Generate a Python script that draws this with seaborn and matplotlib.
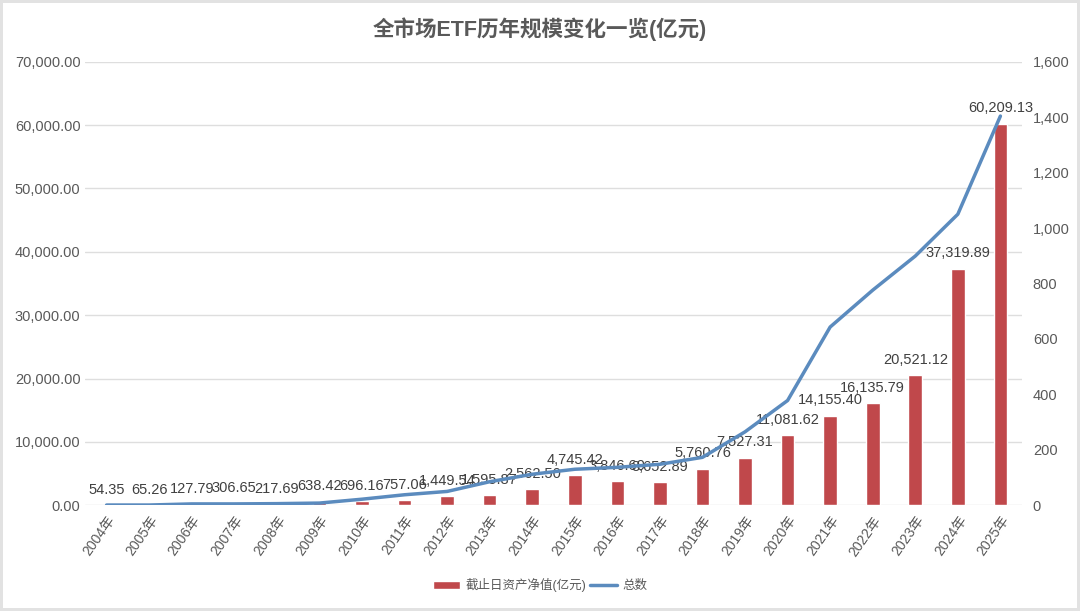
import matplotlib
matplotlib.use("Agg")
import matplotlib.pyplot as plt
import seaborn as sns
import numpy as np
import pandas as pd
from matplotlib.ticker import FuncFormatter, MultipleLocator
from matplotlib.patches import Patch
from matplotlib.lines import Line2D

# data
years = [f"{y}年" for y in range(2004, 2026)]
net_assets = [54.35, 65.26, 127.79, 306.65, 217.69, 638.42, 696.16, 757.06,
              1449.54, 1595.87, 2562.50, 4745.42, 3846.60, 3652.89, 5760.76,
              7527.31, 11081.62, 14155.40, 16135.79, 20521.12, 37319.89, 60209.13]
etf_count = [1, 1, 5, 5, 6, 8, 22, 38, 50, 85, 112, 130, 137, 148, 173,
             265, 378, 643, 776, 899, 1050, 1404]

BAR_COLOR = "#C0484B"
LINE_COLOR = "#5B8BBE"
TEXT_COLOR = "#595959"

sns.set_theme(style="white")
plt.rcParams['font.family'] = ['Liberation Sans', 'Noto Sans CJK SC', 'DejaVu Sans']

df = pd.DataFrame({'year': years, 'assets': net_assets, 'count': etf_count})

fig = plt.figure(figsize=(10.8, 6.11), dpi=100)
fig.patch.set_edgecolor('#e2e2e2')
fig.patch.set_linewidth(3)
ax = fig.add_axes([0.079, 0.173, 0.867, 0.726])

sns.barplot(data=df, x='year', y='assets', color=BAR_COLOR, width=0.32,
            saturation=1, ax=ax)
ax.set_ylim(0, 70000)
ax.yaxis.set_major_locator(MultipleLocator(10000))
ax.yaxis.set_major_formatter(FuncFormatter(lambda v, p: f"{v:,.2f}"))
ax.grid(axis='y', color='#dedede', linewidth=1)
ax.set_axisbelow(True)
ax.set_xlabel('')
ax.set_ylabel('')
ax.set_xlim(-0.5, len(years) - 0.5)
ax.tick_params(axis='both', length=0, labelsize=10.5, colors=TEXT_COLOR)
ax.tick_params(axis='x', labelsize=10, pad=6)
plt.setp(ax.get_xticklabels(), rotation=55, ha='right', rotation_mode='anchor')
for s in ax.spines.values():
    s.set_visible(False)

ax.bar_label(ax.containers[0], labels=[f"{v:,.2f}" for v in net_assets],
             padding=6, fontsize=10.5, color='#404040')

ax2 = ax.twinx()
sns.lineplot(x=np.arange(len(years)), y=df['count'], color=LINE_COLOR,
             linewidth=2.5, ax=ax2)
ax2.set_ylim(0, 1600)
ax2.yaxis.set_major_locator(MultipleLocator(200))
ax2.yaxis.set_major_formatter(FuncFormatter(lambda v, p: f"{v:,.0f}"))
ax2.set_ylabel('')
ax2.grid(False)
ax2.tick_params(axis='y', length=0, labelsize=10.5, colors=TEXT_COLOR, pad=8)
for s in ax2.spines.values():
    s.set_visible(False)

fig.suptitle('全市场ETF历年规模变化一览(亿元)', y=0.972, fontsize=15.5,
             fontweight='bold', color=TEXT_COLOR)

handles = [Patch(facecolor=BAR_COLOR, label='截止日资产净值(亿元)'),
           Line2D([0], [0], color=LINE_COLOR, linewidth=2.5, label='总数')]
fig.legend(handles=handles, loc='center', bbox_to_anchor=(0.5, 0.042), ncol=2,
           frameon=False, fontsize=9, handlelength=2.2, columnspacing=0.3,
           handletextpad=0.4, labelcolor=TEXT_COLOR)

fig.savefig('out.png', dpi=100)
